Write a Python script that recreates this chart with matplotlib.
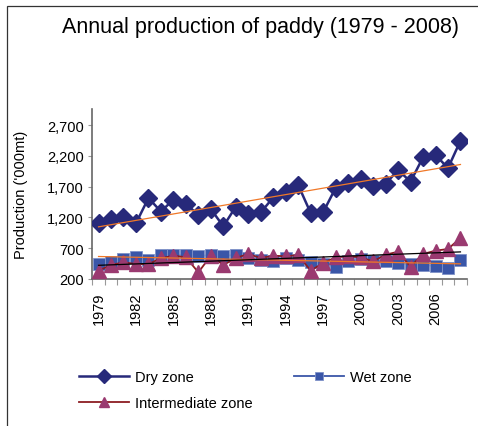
import numpy as np
import matplotlib
matplotlib.use("Agg")
import matplotlib.pyplot as plt
from matplotlib.ticker import FuncFormatter, FixedLocator
from matplotlib.patches import Rectangle

plt.rcParams['font.family'] = ['Liberation Sans', 'DejaVu Sans']

years = list(range(1979, 2009))
dry_zone = [1110, 1175, 1200, 1105, 1515, 1295, 1490, 1420, 1240, 1335, 1055, 1375,
            1255, 1280, 1525, 1620, 1725, 1270, 1285, 1680, 1760, 1825, 1715, 1745,
            1970, 1780, 2175, 2215, 2000, 2445]
wet_zone = [445, 480, 530, 555, 510, 592, 592, 590, 570, 592, 575, 592,
            545, 505, 498, 545, 505, 470, 445, 400, 498, 525, 500, 487,
            454, 440, 433, 406, 385, 505]
intermediate_zone = [335, 427, 471, 443, 443, 536, 579, 552, 308, 579, 427, 540,
                     606, 540, 579, 568, 590, 335, 460, 552, 568, 552, 487, 595,
                     643, 400, 606, 660, 687, 866]
ytick_values = [200, 700, 1200, 1700, 2200, 2700]
xtick_labels = [str(y) for y in years[::3]]

W, H = 478, 427
fig = plt.figure(figsize=(W / 100, H / 100), dpi=100)

# figure frame (top and left edges visible)
fig.patches.append(Rectangle((7 / W, -0.2), 1.2, 1 - 7 / H + 0.2, transform=fig.transFigure,
                             fill=False, edgecolor='#333333', linewidth=0.9))

ax = fig.add_axes([92.3 / W, 1 - 280 / H, 374.4 / W, 170 / H])
x = np.arange(len(years))

navy = '#27297a'
blue = '#3a56a8'
purple = '#9a3a70'
darkred = '#8c1c22'

ax.plot(x, wet_zone, color=blue, lw=1.3, marker='s', ms=8, mfc=blue, mec='#7f92c8',
        mew=0.6, zorder=3, label='Wet zone')
ax.plot(x, intermediate_zone, color=darkred, lw=1.3, marker='^', ms=10, mfc=purple,
        mec=purple, zorder=4, label='Intermediate zone')
ax.plot(x, dry_zone, color=navy, lw=1.8, marker='D', ms=9, mfc=navy, mec=navy,
        zorder=5, label='Dry zone')

# linear trend lines
for series, col, z in [(dry_zone, '#f07828', 6), (wet_zone, '#f07828', 6),
                       (intermediate_zone, '#000000', 6)]:
    p = np.polyfit(x, series, 1)
    ax.plot(x, np.polyval(p, x), color=col, lw=0.9, zorder=z)

ax.set_xlim(-0.5, len(years) - 0.5)
ax.set_ylim(200, 2960)
ax.set_yticks(ytick_values)
ax.yaxis.set_major_formatter(FuncFormatter(lambda v, _: f"{int(v):,}"))
ax.tick_params(axis='y', length=3, width=0.8, color='#999999', labelsize=10.5, pad=3)

ax.xaxis.set_major_locator(FixedLocator(list(x[::3])))
ax.set_xticklabels(xtick_labels, rotation=90, fontsize=10.5)
ax.tick_params(axis='x', which='major', length=0, pad=9)
ax.xaxis.set_minor_locator(FixedLocator(list(np.arange(-0.5, len(years), 1.0))))
ax.tick_params(axis='x', which='minor', length=4, width=0.8, color='#999999')

for s in ['top', 'right']:
    ax.spines[s].set_visible(False)
for s in ['left', 'bottom']:
    ax.spines[s].set_color('#666666')
    ax.spines[s].set_linewidth(1.2)

ax.set_ylabel("Production ('000mt)", fontsize=10.5, labelpad=14)
fig.text(260 / W, 1 - 27 / H, "Annual production of paddy (1979 - 2008)",
         ha='center', va='center', fontsize=15.5)

handles, labels = ax.get_legend_handles_labels()
# column-wise fill: col1 = Dry, Intermediate ; col2 = Wet
order = [2, 1, 0]
leg = fig.legend([handles[i] for i in order], [labels[i] for i in order],
                 loc='upper left', bbox_to_anchor=(66 / W, 1 - 358 / H), ncol=2,
                 frameon=False, fontsize=10.5, handlelength=3.4, columnspacing=2.9,
                 handletextpad=0.4, labelspacing=0.8, markerscale=0.75)

fig.savefig("out.png", dpi=100)
